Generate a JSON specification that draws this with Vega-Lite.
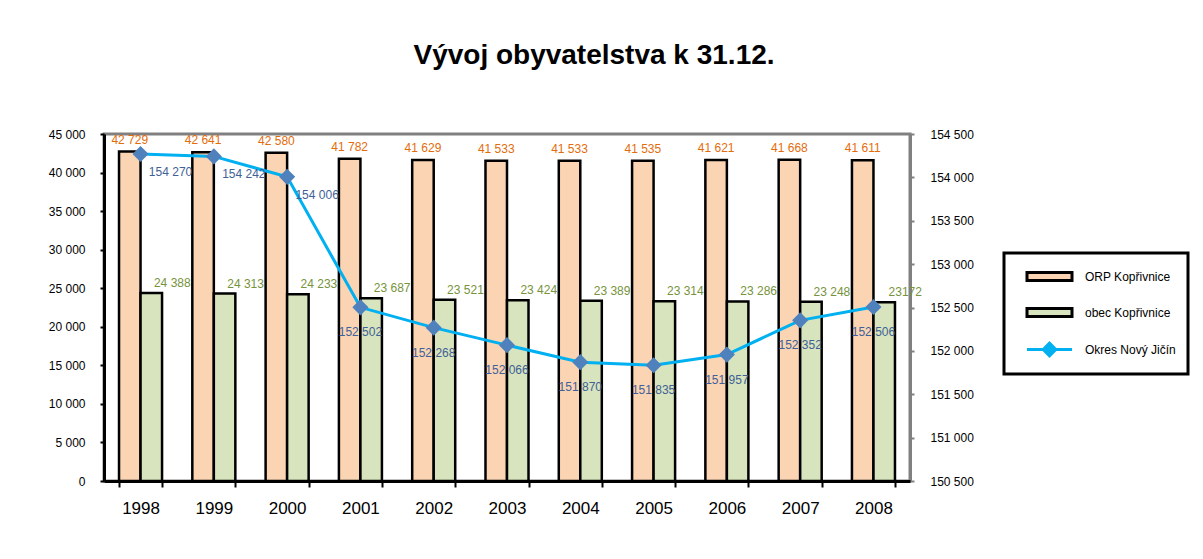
{
  "$schema": "https://vega.github.io/schema/vega-lite/v6.json",
  "autosize": "none",
  "width": 806,
  "height": 347,
  "padding": {"left": 104, "top": 134, "right": 293, "bottom": 78},
  "background": "white",
  "config": {
    "font": "Liberation Sans",
    "view": {"stroke": "#808080", "strokeWidth": 3},
    "legend": {"strokeWidth": 3},
    "locale": {"number": {"decimal": ",", "thousands": " ", "grouping": [3], "currency": ["", " Kč"]}}
  },
  "title": {
    "text": "Vývoj obyvatelstva k 31.12.",
    "fontSize": 28,
    "fontWeight": "bold",
    "font": "Liberation Sans",
    "color": "black",
    "anchor": "middle",
    "frame": "group",
    "baseline": "alphabetic",
    "dx": 87,
    "offset": 36
  },
  "datasets": {
    "bars": [
      {"year": "1998", "series": "ORP Kopřivnice", "value": 42729, "lbl": "42 729"},
      {"year": "1999", "series": "ORP Kopřivnice", "value": 42641, "lbl": "42 641"},
      {"year": "2000", "series": "ORP Kopřivnice", "value": 42580, "lbl": "42 580"},
      {"year": "2001", "series": "ORP Kopřivnice", "value": 41782, "lbl": "41 782"},
      {"year": "2002", "series": "ORP Kopřivnice", "value": 41629, "lbl": "41 629"},
      {"year": "2003", "series": "ORP Kopřivnice", "value": 41533, "lbl": "41 533"},
      {"year": "2004", "series": "ORP Kopřivnice", "value": 41533, "lbl": "41 533"},
      {"year": "2005", "series": "ORP Kopřivnice", "value": 41535, "lbl": "41 535"},
      {"year": "2006", "series": "ORP Kopřivnice", "value": 41621, "lbl": "41 621"},
      {"year": "2007", "series": "ORP Kopřivnice", "value": 41668, "lbl": "41 668"},
      {"year": "2008", "series": "ORP Kopřivnice", "value": 41611, "lbl": "41 611"},
      {"year": "1998", "series": "obec Kopřivnice", "value": 24388, "lbl": "24 388"},
      {"year": "1999", "series": "obec Kopřivnice", "value": 24313, "lbl": "24 313"},
      {"year": "2000", "series": "obec Kopřivnice", "value": 24233, "lbl": "24 233"},
      {"year": "2001", "series": "obec Kopřivnice", "value": 23687, "lbl": "23 687"},
      {"year": "2002", "series": "obec Kopřivnice", "value": 23521, "lbl": "23 521"},
      {"year": "2003", "series": "obec Kopřivnice", "value": 23424, "lbl": "23 424"},
      {"year": "2004", "series": "obec Kopřivnice", "value": 23389, "lbl": "23 389"},
      {"year": "2005", "series": "obec Kopřivnice", "value": 23314, "lbl": "23 314"},
      {"year": "2006", "series": "obec Kopřivnice", "value": 23286, "lbl": "23 286"},
      {"year": "2007", "series": "obec Kopřivnice", "value": 23248, "lbl": "23 248"},
      {"year": "2008", "series": "obec Kopřivnice", "value": 23172, "lbl": "23172"}
    ],
    "okres": [
      {"year": "1998", "value": 154270},
      {"year": "1999", "value": 154242},
      {"year": "2000", "value": 154006},
      {"year": "2001", "value": 152502},
      {"year": "2002", "value": 152268},
      {"year": "2003", "value": 152066},
      {"year": "2004", "value": 151870},
      {"year": "2005", "value": 151835},
      {"year": "2006", "value": 151957},
      {"year": "2007", "value": 152352},
      {"year": "2008", "value": 152506}
    ]
  },
  "encoding": {
    "x": {
      "field": "year",
      "type": "ordinal",
      "scale": {"paddingInner": 0.413, "paddingOuter": 0.205},
      "axis": {
        "title": null,
        "labelAngle": 0,
        "labelFontSize": 17,
        "labelColor": "black",
        "labelPadding": 13,
        "domainColor": "black",
        "domainWidth": 3,
        "tickColor": "black",
        "tickWidth": 2,
        "tickSize": 6,
        "tickBand": "extent",
        "zindex": 1
      }
    }
  },
  "layer": [
    {
      "data": {"name": "bars"},
      "encoding": {
        "xOffset": {"field": "series", "type": "nominal", "scale": {"domain": ["ORP Kopřivnice", "obec Kopřivnice"], "paddingInner": 0, "paddingOuter": 0}},
        "y": {
          "field": "value",
          "type": "quantitative",
          "scale": {"domain": [0, 45000], "nice": false, "zero": true},
          "axis": {
            "title": null,
            "orient": "left",
            "values": [0, 5000, 10000, 15000, 20000, 25000, 30000, 35000, 40000, 45000],
            "format": ",d",
            "grid": false,
            "labelFontSize": 12,
            "labelColor": "black",
            "labelPadding": 15,
            "domainColor": "black",
            "domainWidth": 3,
            "tickColor": "black",
            "tickWidth": 2,
            "tickSize": 4,
            "zindex": 1
          }
        }
      },
      "layer": [
        {
          "mark": {"type": "bar", "stroke": "black", "strokeWidth": 2.5, "opacity": 1},
          "encoding": {
            "color": {
              "field": "series",
              "type": "nominal",
              "scale": {
                "domain": ["ORP Kopřivnice", "obec Kopřivnice", "Okres Nový Jičín"],
                "range": ["#FBD4B4", "#D7E4BD", "#00B0F0"]
              },
              "legend": {
                "title": null,
                "orient": "none",
                "legendX": 900,
                "legendY": 119,
                "direction": "vertical",
                "padding": 12,
                "strokeColor": "black",
                "fillColor": "white",
                "labelFontSize": 12,
                "labelColor": "black",
                "labelFont": "Liberation Sans",
                "labelOffset": 24,
                "symbolSize": 400,
                "symbolOffset": 22,
                "rowPadding": 14,
                "symbolType": {"expr": "datum.value === 'Okres Nový Jičín' ? 'M-2.25,0H-0.63L0,-0.63L0.63,0H2.25M0.63,0L0,0.63L-0.63,0' : 'M-2.25,-0.4H2.25V0.4H-2.25Z'"},
                "symbolStrokeColor": {"expr": "datum.value === 'Okres Nový Jičín' ? '#00B0F0' : 'black'"},
                "symbolFillColor": {"expr": "datum.value === 'ORP Kopřivnice' ? '#FBD4B4' : datum.value === 'obec Kopřivnice' ? '#D7E4BD' : '#4F81BD'"},
                "symbolStrokeWidth": 3,
                "symbolOpacity": 1
              }
            }
          }
        },
        {
          "transform": [{"filter": "datum.series === 'ORP Kopřivnice'"}],
          "mark": {"type": "text", "fontSize": 12, "color": "#E46C0A", "dy": -12, "baseline": "middle"},
          "encoding": {"text": {"field": "lbl"}}
        },
        {
          "transform": [{"filter": "datum.series === 'obec Kopřivnice'"}],
          "mark": {"type": "text", "fontSize": 12, "color": "#77933C", "dx": 21, "dy": -10, "baseline": "middle"},
          "encoding": {"text": {"field": "lbl"}}
        }
      ]
    },
    {
      "data": {"name": "okres"},
      "encoding": {
        "y": {
          "field": "value",
          "type": "quantitative",
          "scale": {"domain": [150500, 154500], "nice": false, "zero": false},
          "axis": {
            "title": null,
            "orient": "right",
            "values": [150500, 151000, 151500, 152000, 152500, 153000, 153500, 154000, 154500],
            "format": ",d",
            "grid": false,
            "labelFontSize": 12,
            "labelColor": "black",
            "labelPadding": 16,
            "domainColor": "#808080",
            "domainWidth": 3,
            "tickColor": "#808080",
            "tickWidth": 2,
            "tickSize": 4
          }
        }
      },
      "layer": [
        {
          "mark": {"type": "line", "color": "#00B0F0", "strokeWidth": 3}
        },
        {
          "mark": {"type": "point", "shape": "diamond", "filled": true, "color": "#4F81BD", "size": 260, "opacity": 1}
        },
        {
          "transform": [{"filter": "datum.year <= '2000'"}],
          "mark": {"type": "text", "fontSize": 12, "color": "#3F6198", "dx": 30, "dy": 18, "baseline": "middle"},
          "encoding": {"text": {"field": "value", "type": "quantitative", "format": ",d"}}
        },
        {
          "transform": [{"filter": "datum.year > '2000'"}],
          "mark": {"type": "text", "fontSize": 12, "color": "#3F6198", "dy": 25, "baseline": "middle"},
          "encoding": {"text": {"field": "value", "type": "quantitative", "format": ",d"}}
        }
      ]
    }
  ],
  "resolve": {"scale": {"y": "independent"}}
}
